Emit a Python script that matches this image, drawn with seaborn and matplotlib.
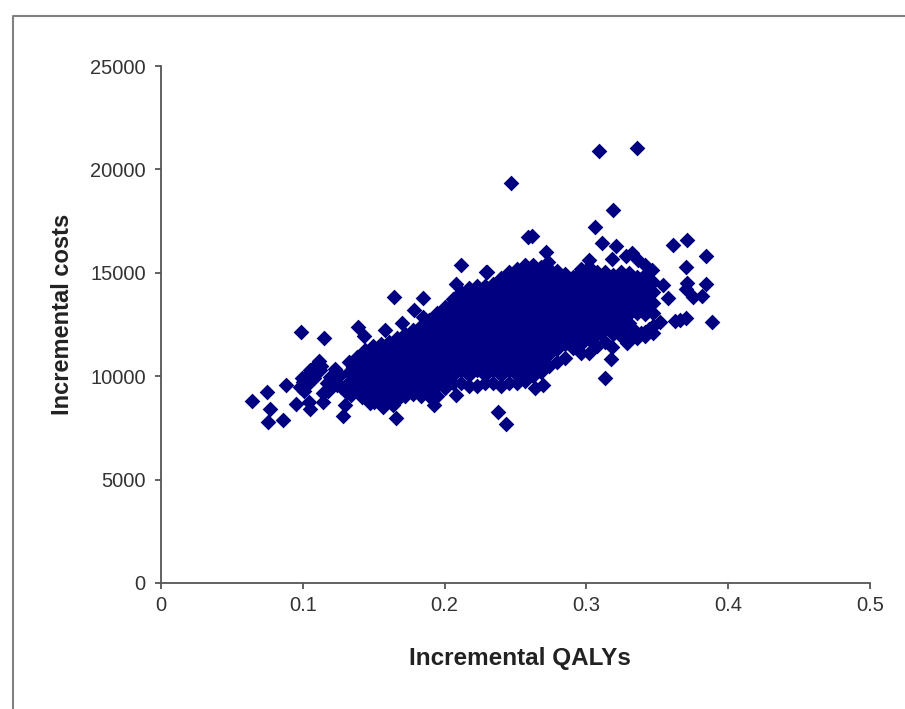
import matplotlib
matplotlib.use('Agg')
import matplotlib.pyplot as plt
from matplotlib.lines import Line2D
import pandas as pd
import seaborn as sns

# scattered points around the edge of the cloud, read one by one
edge_qalys = [0.2468, 0.2588, 0.2116, 0.2292, 0.2080, 0.1643, 0.1848, 0.1784, 0.1848, 0.1700, 0.1580, 0.1389, 0.1432,
              0.0987, 0.1150, 0.1227, 0.1114, 0.1051, 0.0994, 0.0882, 0.0748, 0.0642, 0.0769, 0.0755, 0.0860, 0.0952,
              0.1044, 0.1051, 0.1142, 0.1142, 0.1298, 0.1284, 0.1657, 0.1925, 0.2080, 0.2377, 0.2433, 0.0980, 0.1030,
              0.1171, 0.1192, 0.1121, 0.1241, 0.1474, 0.1565, 0.1636, 0.3089, 0.3357, 0.3188, 0.3061, 0.2616, 0.3110,
              0.3209, 0.3181, 0.2715, 0.2729, 0.3611, 0.3709, 0.3843, 0.3702, 0.3709, 0.3702, 0.3843, 0.3752, 0.3815,
              0.3540, 0.3575, 0.3519, 0.3625, 0.3660, 0.3702, 0.3886, 0.3173, 0.3131, 0.3181, 0.2637, 0.2694, 0.3322,
              0.3279, 0.3364, 0.3413, 0.3463, 0.2299, 0.3286, 0.3470,
              0.1030, 0.1000, 0.1080, 0.1130, 0.1010, 0.1080, 0.1180, 0.1220, 0.1270, 0.1310, 0.1260, 0.1340, 0.1420,
              0.1500]
edge_costs = [19340, 16730, 15380, 15040, 14460, 13830, 13780, 13200, 12860, 12570, 12230, 12380, 11950,
              12140, 11850, 10350, 10740, 10300, 9910, 9580, 9240, 8800, 8410, 7790, 7880, 8660,
              8750, 8410, 8750, 9190, 8610, 8080, 7980, 8610, 9090, 8270, 7690, 9480, 9580,
              9670, 9960, 10300, 9580, 8700, 8510, 8610, 20890, 21040, 18040, 17220, 16780, 16440,
              16300, 15670, 16010, 15520, 16350, 16590, 15810, 15280, 14510, 14220, 14460, 13830, 13880,
              14410, 13780, 12620, 12670, 12720, 12820, 12620, 10830, 9910, 11410, 9430, 9580, 15960,
              15810, 15620, 15380, 15140, 15040, 11610, 12090,
              10000, 9700, 10450, 10500, 9300, 9900, 9300, 9800, 9500, 9200, 10050, 9100, 9000,
              8750]

# the solid middle of the cloud, estimated column by column
core_qalys = [0.1326, 0.1382, 0.1439, 0.1495, 0.1551, 0.1608, 0.1664, 0.1721, 0.1777, 0.1834, 0.1890, 0.1946, 0.2003,
              0.2059, 0.2116, 0.2172, 0.2228, 0.2285, 0.2341, 0.2398, 0.2454, 0.2511, 0.2567, 0.2623, 0.2680, 0.2736,
              0.2793, 0.2849, 0.2906, 0.2962, 0.3018, 0.3075, 0.3131, 0.3188, 0.3244, 0.3300, 0.3357, 0.3413, 0.3470,
              0.1354, 0.1410, 0.1467, 0.1523, 0.1580, 0.1636, 0.1693,
              0.3047, 0.3103, 0.3160, 0.3216, 0.3272, 0.3329, 0.3385, 0.3442]
core_costs = [
    [9700, 10200, 10700],
    [9350, 9850, 10350, 10950],
    [9200, 9700, 10200, 10700, 11250],
    [9050, 9550, 10050, 10550, 11050, 11450],
    [8950, 9300, 9800, 10300, 10800, 11300, 11550],
    [8850, 9050, 9550, 10050, 10550, 11050, 11650],
    [8850, 9300, 9800, 10300, 10800, 11300, 11850],
    [9050, 9550, 10050, 10550, 11050, 11550, 12050],
    [9150, 9300, 9800, 10300, 10800, 11300, 11800, 12230],
    [9050, 9550, 10050, 10550, 11050, 11550, 12050, 12430],
    [9050, 9300, 9800, 10300, 10800, 11300, 11800, 12300, 12700],
    [9050, 9550, 10050, 10550, 11050, 11550, 12050, 12550, 13050],
    [9450, 9800, 10300, 10800, 11300, 11800, 12300, 12800, 13350],
    [9650, 10050, 10550, 11050, 11550, 12050, 12550, 13050, 13550, 13750],
    [9650, 10300, 10800, 11300, 11800, 12300, 12800, 13300, 13800, 14050],
    [9550, 10050, 10550, 11050, 11550, 12050, 12550, 13050, 13550, 14050, 14250],
    [9550, 10300, 10800, 11300, 11800, 12300, 12800, 13300, 13800, 14350],
    [9650, 10050, 10550, 11050, 11550, 12050, 12550, 13050, 13550, 14050, 14350],
    [9650, 10300, 10800, 11300, 11800, 12300, 12800, 13300, 13800, 14300, 14450],
    [9550, 10050, 10550, 11050, 11550, 12050, 12550, 13050, 13550, 14050, 14550, 14750],
    [9650, 10300, 10800, 11300, 11800, 12300, 12800, 13300, 13800, 14300, 14800, 15050],
    [9650, 10050, 10550, 11050, 11550, 12050, 12550, 13050, 13550, 14050, 14550, 15050, 15200],
    [9750, 10300, 10800, 11300, 11800, 12300, 12800, 13300, 13800, 14300, 14800, 15400],
    [10000, 10550, 11050, 11550, 12050, 12550, 13050, 13550, 14050, 14550, 15050, 15400],
    [10200, 10800, 11300, 11800, 12300, 12800, 13300, 13800, 14300, 14800, 15300],
    [10500, 11050, 11550, 12050, 12550, 13050, 13550, 14050, 14550, 15050, 15200],
    [10700, 11300, 11800, 12300, 12800, 13300, 13800, 14300, 14800, 15100],
    [10900, 11550, 12050, 12550, 13050, 13550, 14050, 14550, 14950],
    [11350, 11800, 12300, 12800, 13300, 13800, 14300, 14800],
    [11100, 11550, 12050, 12550, 13050, 13550, 14050, 14550, 15050, 15200],
    [11100, 11800, 12300, 12800, 13300, 13800, 14300, 14800, 15300, 15600],
    [11450, 12050, 12550, 13050, 13550, 14050, 14550, 15050],
    [11650, 12300, 12800, 13300, 13800, 14300, 14800, 15050],
    [12050, 12550, 13050, 13550, 14050, 14550, 14900],
    [11950, 12300, 12800, 13300, 13800, 14300, 14800, 15050],
    [11850, 12550, 13050, 13550, 14050, 14550, 15000],
    [11850, 12050, 13050, 13300, 13800, 14300, 14800],
    [11950, 12150, 13000, 13550, 14050, 14550, 14900],
    [12430, 13050, 13550, 14050, 14560],
    [9450, 9950, 10450],
    [9100, 9600, 10100, 10600],
    [9300, 9800, 10300, 10800],
    [9200, 9700, 10200, 10700, 11200],
    [9100, 9600, 10100, 10600, 11100],
    [9050, 9550, 10050, 10550, 11050],
    [9550, 10050, 10550, 11050, 11550],
    [12000, 12500, 13000, 13500, 14000, 14500],
    [12100, 12600, 13100, 13600, 14100, 14600],
    [12300, 12800, 13300, 13800, 14300],
    [12200, 12700, 13200, 13700, 14200, 14700],
    [12300, 12800, 13300, 13800, 14300, 14800],
    [12000, 12300, 13200, 13700, 14200, 14700],
    [12100, 13300, 13800, 14300, 14700],
    [12300, 13200, 13700, 14200],
]

x_ticks = [0, 0.1, 0.2, 0.3, 0.4, 0.5]
x_tick_labels = ['0', '0.1', '0.2', '0.3', '0.4', '0.5']
y_ticks = [0, 5000, 10000, 15000, 20000, 25000]

rows = [{'qaly': q, 'cost': c} for q, c in zip(edge_qalys, edge_costs)]
for q, col in zip(core_qalys, core_costs):
    for c in col:
        rows.append({'qaly': q, 'cost': c})
df = pd.DataFrame(rows)

sns.set_style('white')
plt.rcParams['font.family'] = ['Liberation Sans', 'DejaVu Sans']

W, H = 905, 709
fig = plt.figure(figsize=(W / 100, H / 100), dpi=100)
ax = fig.add_axes([161 / W, 1 - 583 / H, (870 - 161) / W, (583 - 66) / H])

sns.scatterplot(data=df, x='qaly', y='cost', marker='D', s=64, color='#000080', linewidth=0, ax=ax, clip_on=False)

ax.set_xlim(0, 0.5)
ax.set_ylim(0, 25000)
ax.set_xticks(x_ticks)
ax.set_xticklabels(x_tick_labels)
ax.set_yticks(y_ticks)
ax.tick_params(axis='both', direction='out', length=4.5, width=1.3, color='#555555', labelcolor='#333333',
               labelsize=14.5, bottom=True, left=True, pad=5)
ax.tick_params(axis='y', pad=6.5)
sns.despine(ax=ax)
for s in ['left', 'bottom']:
    ax.spines[s].set_color('#555555')
    ax.spines[s].set_linewidth(1.3)

ax.set_xlabel('Incremental QALYs', fontsize=17.5, fontweight='bold', color='#222222', va='center')
ax.set_ylabel('Incremental costs', fontsize=17, fontweight='bold', color='#222222', va='center')
ax.xaxis.set_label_coords((520 - 161) / 709, (583 - 659) / 517)
ax.yaxis.set_label_coords((62 - 161) / 709, (583 - 314) / 517)

# grey frame of the pasted picture (left and top only)
fig.add_artist(Line2D([12.5 / W, 12.5 / W, 1], [0, 1 - 15.5 / H, 1 - 15.5 / H], color='#808080', lw=1.5,
                      transform=fig.transFigure))

fig.savefig('out.png', dpi=100)
